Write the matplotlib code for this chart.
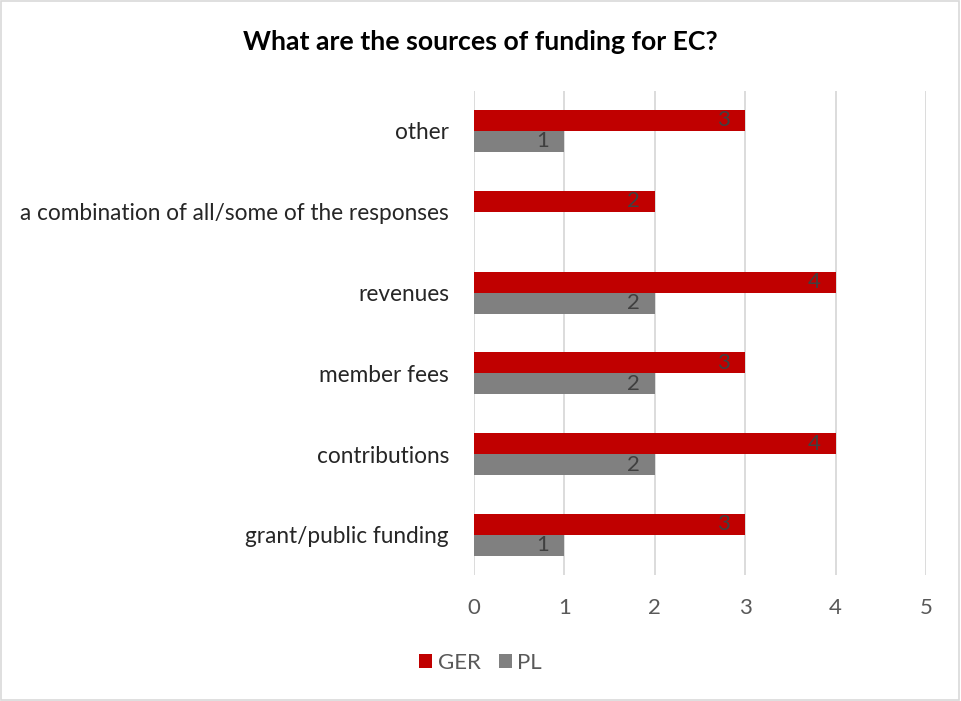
import matplotlib
matplotlib.use("Agg")
import matplotlib.pyplot as plt
from matplotlib.patches import Rectangle, Patch
import numpy as np

plt.rcParams['font.family'] = ['Lato', 'DejaVu Sans']

categories = ["grant/public funding", "contributions", "member fees", "revenues",
              "a combination of all/some of the responses", "other"]
ger = [3, 4, 3, 4, 2, 3]
pl = [1, 2, 2, 2, None, 1]
series_names = ["GER", "PL"]
colors = ["#C00000", "#808080"]
xticks = [0, 1, 2, 3, 4, 5]

fig = plt.figure(figsize=(9.61, 7.01), dpi=100)
ax = fig.add_axes([0.4932, 0.1792, 0.4704, 0.6916])

y = np.arange(len(categories))
h = 0.26
ger_vals = [v if v is not None else 0 for v in ger]
pl_vals = [v if v is not None else 0 for v in pl]
b1 = ax.barh(y + h / 2, ger_vals, height=h, color=colors[0], zorder=3)
b2 = ax.barh(y - h / 2, pl_vals, height=h, color=colors[1], zorder=3)

# value labels just inside the end of each bar
for bars, vals in ((b1, ger), (b2, pl)):
    for rect, v in zip(bars, vals):
        if v is None:
            continue
        ax.annotate(str(v), xy=(v, rect.get_y() + rect.get_height() / 2),
                    xytext=(-11, 0), textcoords="offset points",
                    ha="right", va="center", fontsize=16, color="#404040", zorder=4)

ax.set_xlim(0, 5)
ax.set_ylim(-0.5, len(categories) - 0.5)
ax.set_xticks(xticks)
ax.set_xticklabels([str(t) for t in xticks])
ax.set_yticks(y)
ax.set_yticklabels(categories)
ax.tick_params(axis="x", length=0, pad=16, labelsize=16, labelcolor="#595959")
ax.tick_params(axis="y", length=0, pad=18, labelsize=16.3, labelcolor="#262626")
ax.grid(axis="x", color="#D9D9D9", linewidth=1.3, zorder=0)
for s in ax.spines.values():
    s.set_visible(False)

fig.text(0.5, 0.94, "What are the sources of funding for EC?", ha="center", va="center",
         fontsize=19.2, fontweight="bold", color="#000000")

handles = [Patch(facecolor=c, edgecolor="none") for c in colors]
fig.legend(handles, series_names, loc="center", bbox_to_anchor=(0.5, 0.054), ncol=2,
           frameon=False, fontsize=16, handlelength=0.6, handleheight=0.6,
           handletextpad=0.25, columnspacing=0.8, labelcolor="#595959")

# thin frame around the whole figure
fig.patches.append(Rectangle((0.001, 0.001), 0.997, 0.997, transform=fig.transFigure,
                             fill=False, edgecolor="#D9D9D9", linewidth=1.2))

fig.savefig("out.png", dpi=100)
